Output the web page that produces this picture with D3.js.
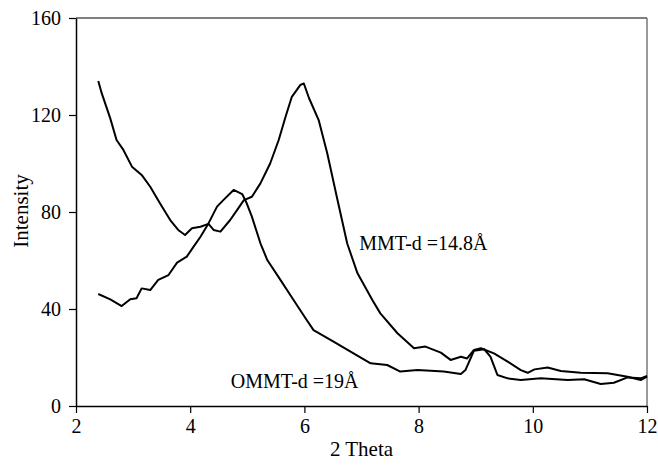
<!DOCTYPE html>
<html>
<head>
<script src="https://cdn.jsdelivr.net/npm/d3@7"></script>
</head>
<body style="margin:0">
<script>
// 2 Theta / Intensity readings
var mmtTheta = [2.39, 2.45, 2.60, 2.71, 2.83, 2.98, 3.15, 3.30, 3.47, 3.65, 3.79, 3.91, 4.03, 4.18, 4.32, 4.41, 4.53, 4.70, 4.82, 4.94, 5.08, 5.23, 5.40, 5.55, 5.67, 5.78, 5.93, 5.99, 6.08, 6.25, 6.40, 6.57, 6.75, 6.93, 7.19, 7.33, 7.63, 7.92, 8.12, 8.39, 8.56, 8.74, 8.85, 8.97, 9.09, 9.32, 9.56, 9.79, 9.91, 10.03, 10.26, 10.49, 10.84, 11.31, 11.66, 11.89, 12.0];
var mmtInt = [134, 129, 118.6, 109.7, 105.6, 98.7, 95.3, 90.4, 83.6, 76.7, 72.6, 70.5, 73.3, 73.9, 75.1, 72.6, 71.9, 76.7, 80.8, 84.9, 86.3, 91.8, 100, 109.7, 119.3, 127.5, 132.4, 133, 127, 117.9, 104.2, 86, 67, 54.7, 43.7, 38.2, 30, 23.8, 24.5, 22, 19, 20.3, 19.6, 23.1, 23.8, 21.7, 18.3, 14.8, 13.7, 15.1, 15.9, 14.4, 13.7, 13.5, 12.1, 10.7, 12.1];

var ommtTheta = [2.39, 2.60, 2.80, 2.95, 3.06, 3.15, 3.30, 3.44, 3.62, 3.77, 3.94, 4.06, 4.18, 4.32, 4.47, 4.58, 4.76, 4.91, 4.99, 5.08, 5.23, 5.35, 5.58, 5.81, 6.02, 6.16, 6.51, 6.86, 7.16, 7.45, 7.68, 7.98, 8.44, 8.74, 8.82, 8.97, 9.15, 9.26, 9.38, 9.56, 9.79, 10.14, 10.61, 10.90, 11.19, 11.42, 11.66, 11.89, 12.0];
var ommtInt = [46.2, 44, 41.2, 44, 44.4, 48.5, 47.8, 52, 54, 59.1, 61.6, 65.7, 69.8, 75.3, 82.2, 84.9, 89.1, 87.4, 83.6, 78.1, 67.1, 60.2, 52, 43.7, 36.2, 31.3, 26.5, 21.7, 17.6, 16.9, 14.2, 14.8, 14.2, 13.2, 14.8, 22.8, 23.4, 20.3, 12.8, 11.4, 10.7, 11.4, 10.7, 11, 9.1, 9.6, 11.8, 11.4, 12.4];

var xTicks = [2, 4, 6, 8, 10, 12];
var yTicks = [0, 40, 80, 120, 160];

var labelText = ["MMT-d =14.8\u00C5", "OMMT-d =19\u00C5"];
var labelTheta = [6.96, 4.71];
var labelValue = [64.5, 7.5];

var width = 658,
    height = 466;
var padding = { top: 18, right: 11, bottom: 60, left: 76 };

var svg = d3.select("body")
    .append("svg")
    .attr("width", width)
    .attr("height", height);

var x = d3.scaleLinear()
    .domain([2, 12])
    .range([padding.left, width - padding.right]);

var y = d3.scaleLinear()
    .domain([0, 160])
    .range([height - padding.bottom, padding.top]);

// serif text helper, font set the same way on every label
function serif(sel, size) {
    return sel.attr("font-family", "Liberation Serif")
        .style("font-family", "'Liberation Serif'")
        .style("font-size", size + "px")
        .attr("fill", "#000");
}

// frame on top and right
svg.append("line")
    .attr("x1", x(2)).attr("x2", x(12))
    .attr("y1", y(160)).attr("y2", y(160))
    .attr("stroke", "#000").attr("stroke-width", 1.2);
svg.append("line")
    .attr("x1", x(12)).attr("x2", x(12))
    .attr("y1", y(160)).attr("y2", y(0))
    .attr("stroke", "#555").attr("stroke-width", 1.2);

var xAxis = svg.append("g")
    .attr("transform", "translate(0," + y(0) + ")")
    .call(d3.axisBottom(x).tickValues(xTicks).tickSize(7).tickSizeOuter(0).tickPadding(6));

var yAxis = svg.append("g")
    .attr("transform", "translate(" + x(2) + ",0)")
    .call(d3.axisLeft(y).tickValues(yTicks).tickSize(7).tickSizeOuter(0).tickPadding(8));

[xAxis, yAxis].forEach(function (g) {
    g.attr("font-family", "Liberation Serif").attr("font-size", null);
    g.select(".domain").attr("stroke", "#000").attr("stroke-width", 1.5);
    g.selectAll(".tick line").attr("stroke", "#000").attr("stroke-width", 1.2);
    serif(g.selectAll(".tick text"), 20);
});

serif(svg.append("text"), 21)
    .attr("x", x(7))
    .attr("y", 456)
    .attr("text-anchor", "middle")
    .text("2 Theta");

serif(svg.append("text"), 21)
    .attr("transform", "translate(28,211) rotate(-90)")
    .attr("text-anchor", "middle")
    .text("Intensity");

var line = d3.line()
    .x(function (d) { return x(d[0]); })
    .y(function (d) { return y(d[1]); });

var series = [
    mmtTheta.map(function (t, i) { return [t, mmtInt[i]]; }),
    ommtTheta.map(function (t, i) { return [t, ommtInt[i]]; })
];

svg.selectAll(".curve")
    .data(series)
    .enter()
    .append("path")
    .attr("class", "curve")
    .attr("d", line)
    .attr("fill", "none")
    .attr("stroke", "#000")
    .attr("stroke-width", 2)
    .attr("stroke-linejoin", "round");

serif(svg.selectAll(".label")
    .data(labelText)
    .enter()
    .append("text")
    .attr("class", "label"), 20)
    .attr("x", function (d, i) { return x(labelTheta[i]); })
    .attr("y", function (d, i) { return y(labelValue[i]); })
    .text(function (d) { return d; });
</script>
</body>
</html>
